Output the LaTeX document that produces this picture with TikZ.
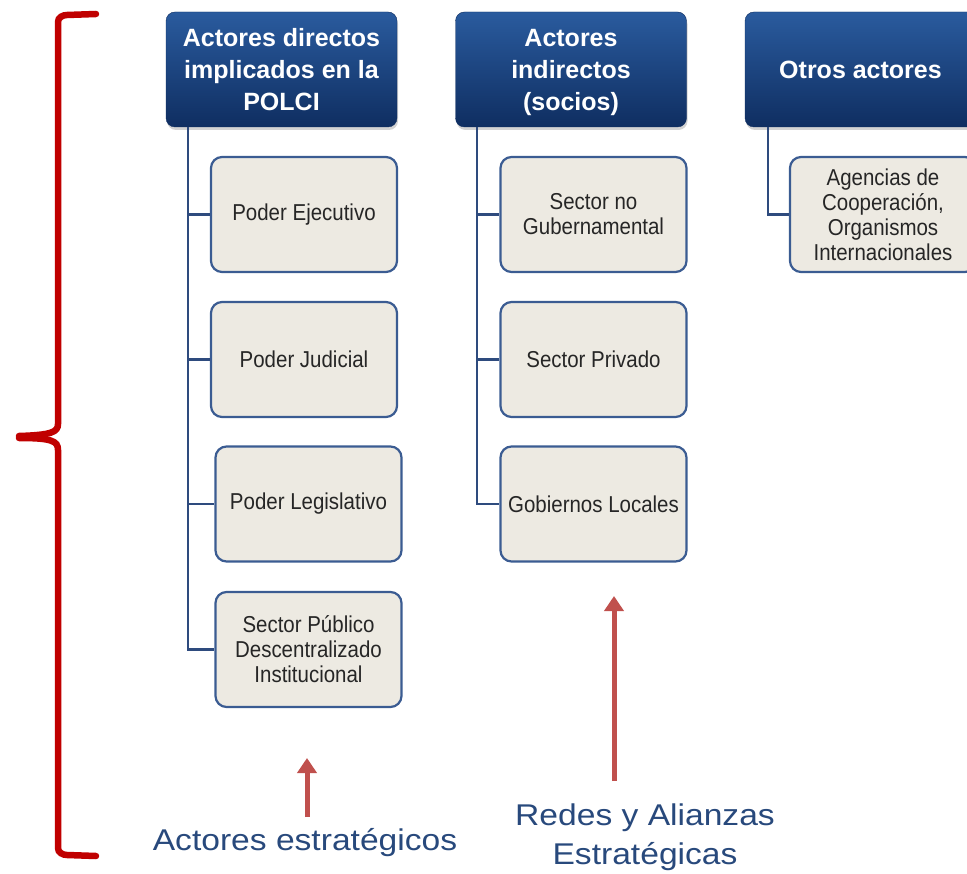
\documentclass[tikz,border=0pt]{standalone}
\usepackage{fontspec}
\setmainfont{Liberation Sans}
\newfontfamily\narrowfont[FakeStretch=0.89]{Liberation Sans}
\newfontfamily\widefont[FakeStretch=1.12]{Liberation Sans}
\usepackage{tikz}
\usetikzlibrary{arrows.meta,shadows}

\definecolor{navytop}{HTML}{2A5B9E}
\definecolor{navybot}{HTML}{0F2E61}
\definecolor{boxfill}{HTML}{EDEAE2}
\definecolor{boxline}{HTML}{3B5C92}
\definecolor{treeline}{HTML}{2E4B7E}
\definecolor{bracered}{HTML}{C00000}
\definecolor{arrowred}{HTML}{C0504D}
\definecolor{labelblue}{HTML}{28497C}

\begin{document}
\begin{tikzpicture}[x=1pt,y=-1pt,
    head/.style={rectangle,rounded corners=9pt,top color=navytop,bottom color=navybot,
      draw=navybot,minimum width=231pt,minimum height=115pt,align=center,text=white,
      font=\fontsize{25}{32}\selectfont\bfseries,
      drop shadow={opacity=0.35,shadow xshift=1pt,shadow yshift=-3pt}},
    item/.style={rectangle,rounded corners=11pt,fill=boxfill,draw=boxline,line width=2.2pt,
      minimum width=186pt,minimum height=115pt,align=center,text=black!85,
      font=\narrowfont\fontsize{23}{25}\selectfont},
    branch/.style={treeline,line width=2.2pt},
    brace/.style={bracered,line width=6.5pt,line cap=round},
    uparrow/.style={arrowred,line width=5pt,-{Triangle[width=19pt,length=15pt]}},
    note/.style={text=labelblue,align=center,font=\widefont\fontsize{30}{39}\selectfont}]
      \useasboundingbox (0,0) rectangle (967,874);
      \clip (0,0) rectangle (967,874);

      % big red brace on the left
      \draw[brace] (96,14) -- (67,15) to[out=180,in=90] (58,22) -- (58,424)
        .. controls (58,432) and (52,435) .. (19,436);
      \draw[brace] (19,438) .. controls (52,438) and (58,441) .. (58,450)
        -- (58,848) to[out=-90,in=180] (67,855) -- (96,856);

      % column headers
      \node[head] (h1) at (281.5,69.5) {Actores directos\\implicados en la\\POLCI};
      \node[head] (h2) at (571,69.5) {Actores\\indirectos\\\smash{(socios)}};
      \node[head] (h3) at (860.5,69.5) {Otros actores};

      \node[item] (ejec) at (304,214.5) {Poder Ejecutivo};
      \node[item] (judi) at (304,359.5) {Poder Judicial};
      \node[item] (legi) at (308.5,504) {Poder Legislativo};
      \node[item] (spdi) at (308.5,649.5) {Sector Público\\Descentralizado\\Institucional};

      \node[item] (sngu) at (593.5,214.5) {Sector no\\Gubernamental};
      \node[item] (spri) at (593.5,359.5) {Sector Privado};
      \node[item] (gloc) at (593.5,504) {Gobiernos Locales};

      \node[item] (agen) at (883,214.5) {Agencias de\\Cooperación,\\Organismos\\Internacionales};

      \coordinate (s1) at ([xshift=22pt]h1.south west);
      \coordinate (s2) at ([xshift=22pt]h2.south west);
      \coordinate (s3) at ([xshift=23pt]h3.south west);
      \foreach \n in {ejec,judi,legi,spdi}
        \draw[branch] (s1) |- (\n.west);
      \foreach \n in {sngu,spri,gloc}
        \draw[branch] (s2) |- (\n.west);
      \draw[branch] (s3) |- (agen.west);

      % labels below
      \node[note] (aest) at (305,843) {Actores estratégicos};
      \node[note] (rede) at (645,837.5) {Redes y Alianzas\\Estratégicas};

      \coordinate (a1) at (307,817);
      \coordinate (a1t) at (307,758);
      \draw[uparrow] (a1) -- (a1t);
      \coordinate (a2) at (614,781);
      \coordinate (a2t) at (614,596);
      \draw[uparrow] (a2) -- (a2t);
\end{tikzpicture}
\end{document}
